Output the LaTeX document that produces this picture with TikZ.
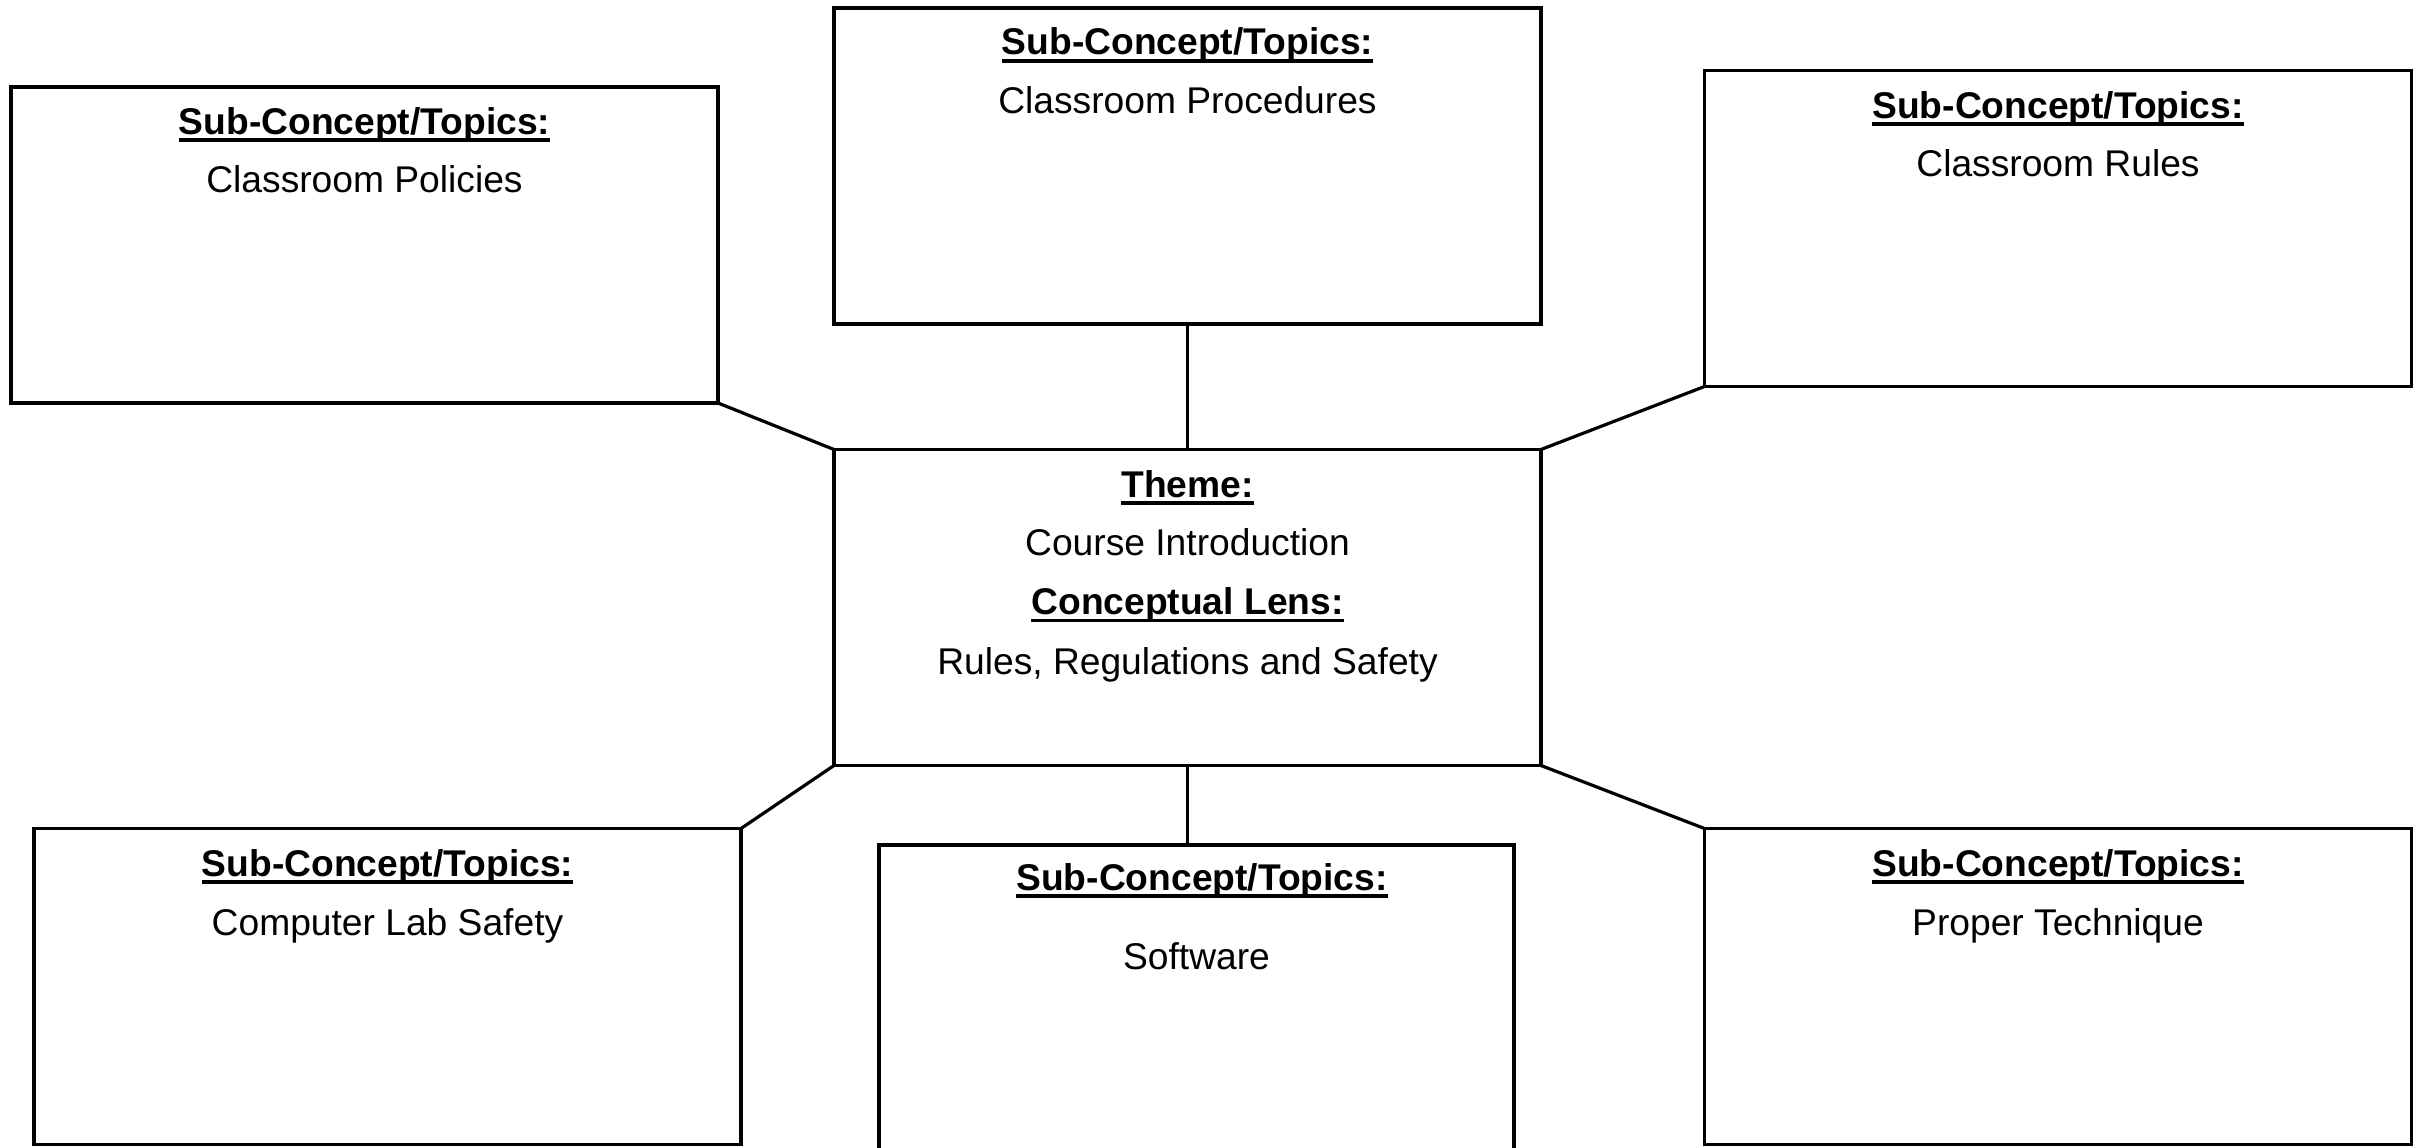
\documentclass[tikz,border=0pt]{standalone}
\usepackage{fontspec}
\setmainfont{Liberation Sans}
\newcommand{\hdrline}[1]{\setbox0\hbox{\bfseries #1}\rlap{\rule[-0.21em]{\wd0}{0.09em}}\box0}
\begin{document}
\begin{tikzpicture}[x=1pt,y=-1pt,
  box/.style={draw, line width=3.6pt, rectangle, inner sep=0pt, outer sep=0pt},
  wbox/.style={box, minimum width=707pt, minimum height=316pt},
  lbl/.style={anchor=base, inner sep=0pt, font=\fontsize{37.2}{44}\selectfont},
  link/.style={line width=3.2pt}]
\useasboundingbox (0,0) rectangle (2422,1148);
% boxes
\node[wbox] (tl) at (364.5,245) {};
\node[wbox] (tc) at (1187.5,166) {};
\node[wbox] (tr) at (2058,228.5) {};
\node[wbox] (c) at (1187.5,607.5) {};
\node[wbox] (bl) at (387.5,986.5) {};
\node[box, minimum width=635pt, minimum height=316pt] (bc) at (1196.5,1003) {};
\node[wbox] (br) at (2058,986.5) {};
% connectors
\draw[link] (tl.south east) -- (c.north west);
\draw[link] (tc.south) -- (c.north);
\draw[link] (tr.south west) -- (c.north east);
\draw[link] (c.south west) -- (bl.north east);
\draw[link] (c.south) -- (c.south |- bc.north);
\draw[link] (c.south east) -- (br.north west);
% texts
\node[lbl] (tlh) at (364.5,134) {\hdrline{Sub-Concept/Topics:}};
\node[lbl] (tlt) at (364.5,192.5) {Classroom Policies};
\node[lbl] (tch) at (1187.5,55) {\hdrline{Sub-Concept/Topics:}};
\node[lbl] (tct) at (1187.5,113.5) {Classroom Procedures};
\node[lbl] (trh) at (2058,118) {\hdrline{Sub-Concept/Topics:}};
\node[lbl] (trt) at (2058,176) {Classroom Rules};
\node[lbl] (ch1) at (1187.5,497) {\hdrline{Theme:}};
\node[lbl] (ct1) at (1187.5,555.5) {Course Introduction};
\node[lbl] (ch2) at (1187.5,614.5) {\hdrline{Conceptual Lens:}};
\node[lbl] (ct2) at (1187.5,674.5) {Rules, Regulations and Safety};
\node[lbl] (blh) at (387.5,876) {\hdrline{Sub-Concept/Topics:}};
\node[lbl] (blt) at (387.5,935) {Computer Lab Safety};
\node[lbl] (bch) at (1202,890) {\hdrline{Sub-Concept/Topics:}};
\node[lbl] (bct) at (1196.5,969) {Software};
\node[lbl] (brh) at (2058,876) {\hdrline{Sub-Concept/Topics:}};
\node[lbl] (brt) at (2058,935) {Proper Technique};
\end{tikzpicture}
\end{document}
